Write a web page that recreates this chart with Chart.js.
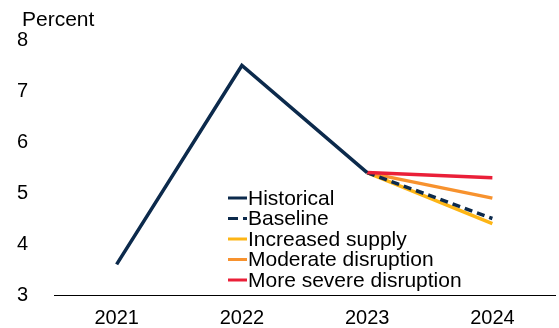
<!DOCTYPE html>
<html>
<head>
<meta charset="utf-8">
<style>
  html, body { margin: 0; padding: 0; background: #fff; }
  #inflationChart { display: block; }
</style>
<script src="https://cdn.jsdelivr.net/npm/chart.js@4/dist/chart.umd.min.js"></script>
</head>
<body>
<canvas id="inflationChart" width="559" height="328"></canvas>
<script>
// years on the x axis
const years = ['2021', '2022', '2023', '2024'];

// series, percent
const historical = [3.6, 7.5, 5.4, null];
const baseline = [null, null, 5.4, 4.5];
const increasedSupply = [null, null, 5.4, 4.4];
const moderateDisruption = [null, null, 5.4, 4.9];
const severeDisruption = [null, null, 5.4, 5.3];

const yTicks = [3, 4, 5, 6, 7, 8];

const FONT = '"Liberation Sans", Arial, sans-serif';
const NAVY = '#0c2a4c';
const YELLOW = '#fdb515';
const ORANGE = '#f7922e';
const RED = '#ea1f38';

// legend drawn inside the plot, short line swatch right against the text
const innerLegend = {
  id: 'innerLegend',
  afterDraw(chart) {
    const ctx = chart.ctx;
    const x0 = 228, y0 = 198, step = 20.5, len = 19;
    ctx.save();
    ctx.font = '21px ' + FONT;
    ctx.textBaseline = 'middle';
    ctx.textAlign = 'left';
    chart.data.datasets.forEach((ds, i) => {
      const y = y0 + i * step;
      ctx.strokeStyle = ds.borderColor;
      ctx.lineWidth = 3;
      ctx.setLineDash(ds.borderDash ? [10, 5] : []);
      ctx.beginPath();
      ctx.moveTo(x0, y);
      ctx.lineTo(x0 + len, y);
      ctx.stroke();
      ctx.setLineDash([]);
      ctx.fillStyle = '#000';
      ctx.fillText(ds.label, x0 + len + 1, y + 1);
    });
    ctx.restore();
  }
};

// unit label above the y axis
const unitLabel = {
  id: 'unitLabel',
  afterDraw(chart) {
    const ctx = chart.ctx;
    ctx.save();
    ctx.font = '21px ' + FONT;
    ctx.fillStyle = '#000';
    ctx.textBaseline = 'middle';
    ctx.fillText('Percent', 22, 20);
    ctx.restore();
  }
};

const inflationChart = new Chart(document.getElementById('inflationChart'), {
  type: 'line',
  data: {
    labels: years,
    datasets: [
      { label: 'Historical', data: historical, borderColor: NAVY, borderWidth: 3.5, order: 0 },
      { label: 'Baseline', data: baseline, borderColor: NAVY, borderWidth: 3.5, borderDash: [8, 5], order: 2 },
      { label: 'Increased supply', data: increasedSupply, borderColor: YELLOW, borderWidth: 3.5, order: 4 },
      { label: 'Moderate disruption', data: moderateDisruption, borderColor: ORANGE, borderWidth: 3.5, order: 3 },
      { label: 'More severe disruption', data: severeDisruption, borderColor: RED, borderWidth: 3.5, order: 1 }
    ]
  },
  options: {
    responsive: false,
    animation: false,
    spanGaps: false,
    layout: { padding: { top: 40, right: 4, left: 0, bottom: 0 } },
    elements: {
      point: { radius: 0, hoverRadius: 0 },
      line: { tension: 0, borderCapStyle: 'butt', borderJoinStyle: 'miter' }
    },
    scales: {
      x: {
        offset: true,
        grid: { display: false },
        border: { display: true, color: '#000', width: 1 },
        ticks: { color: '#000', font: { family: FONT, size: 20 }, padding: 3, maxRotation: 0 },
        afterFit(scale) { scale.height = 33; }
      },
      y: {
        min: 3,
        max: 8,
        afterBuildTicks(scale) { scale.ticks = yTicks.map(v => ({ value: v })); },
        grid: { display: false },
        border: { display: false },
        ticks: { color: '#000', font: { family: FONT, size: 20 }, padding: 18 },
        afterFit(scale) { scale.width = 54; }
      }
    },
    plugins: {
      legend: { display: false },
      tooltip: { enabled: false }
    }
  },
  plugins: [innerLegend, unitLabel]
});
</script>
</body>
</html>
